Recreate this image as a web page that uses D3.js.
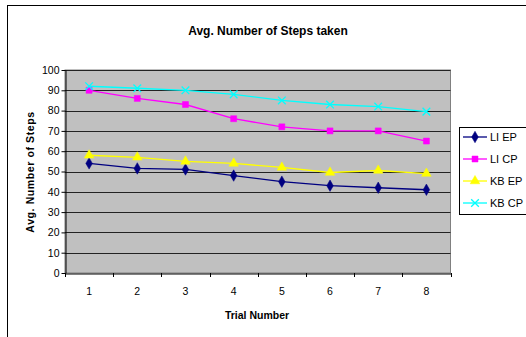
<!DOCTYPE html>
<html><head><meta charset="utf-8">
<script src="https://cdn.jsdelivr.net/npm/d3@7"></script>
<style>body{margin:0;background:#fff}svg{display:block;font-family:"Liberation Sans",Arial,sans-serif}</style>
</head><body>
<script>
const trials = ["1","2","3","4","5","6","7","8"];
const seriesNames = ["LI EP","LI CP","KB EP","KB CP"];
const liEP = [54, 51.5, 51, 48, 45, 43, 42, 41];
const liCP = [90, 86, 83, 76, 72, 70, 70, 65];
const kbEP = [58, 57, 55, 54, 52, 49.5, 50.5, 49];
const kbCP = [92, 91, 90, 88, 85, 83, 82, 79.5];
const yTicks = [0,10,20,30,40,50,60,70,80,90,100];
const colors = ["#000080","#FF00FF","#FFFF00","#00FFFF"];
const symbols = ["diamond","square","triangle","x"];
const allSeries = [liEP, liCP, kbEP, kbCP];

const W = 526, H = 337;
const svg = d3.select("body").append("svg").attr("width", W).attr("height", H);
svg.append("rect").attr("x",7.5).attr("y",5.5).attr("width",W).attr("height",H)
  .attr("fill","#fff").attr("stroke","#000").attr("stroke-width",1);

const L = 65, R = 450.5, T = 70, B = 273;
const x = d3.scaleBand().domain(trials).range([L, R]);
const y = d3.scaleLinear().domain([0,100]).range([B, T]);

svg.append("rect").attr("x",L).attr("y",T).attr("width",R-L).attr("height",B-T)
  .attr("fill","#C0C0C0").attr("stroke","#808080").attr("stroke-width",1);

// gridlines
svg.append("g").selectAll("line").data(yTicks.filter(d=>d>0)).join("line")
  .attr("x1",L).attr("x2",R).attr("y1",d=>Math.round(y(d))+0.5).attr("y2",d=>Math.round(y(d))+0.5)
  .attr("stroke","#222").attr("stroke-width",1);

// y axis
const yAxis = svg.append("g").attr("transform",`translate(${L+0.5},0)`)
  .call(d3.axisLeft(y).tickValues(yTicks).tickSize(4).tickPadding(2).tickSizeOuter(0));
yAxis.select(".domain").attr("stroke","#000");
yAxis.selectAll("line").attr("stroke","#000");
yAxis.selectAll("text").attr("font-size",10.5).attr("fill","#000").attr("font-family","Liberation Sans, Arial");

// x axis
const xAxis = svg.append("g").attr("transform",`translate(0,${B+0.5})`)
  .call(d3.axisBottom(x).tickSize(0).tickPadding(14));
xAxis.select(".domain").attr("stroke","#000");
xAxis.selectAll("text").attr("font-size",10.5).attr("fill","#000").attr("font-family","Liberation Sans, Arial");
// boundary ticks
const bounds = trials.map(t=>x(t)).concat([R]);
svg.append("g").selectAll("line").data(bounds).join("line")
  .attr("x1",d=>Math.round(d)+0.5).attr("x2",d=>Math.round(d)+0.5)
  .attr("y1",B).attr("y2",B+4).attr("stroke","#000");

// lines & markers
const line = d3.line().x((d,i)=>x(trials[i])+x.bandwidth()/2).y(d=>y(d));
const symType = {diamond:d3.symbolDiamond, square:d3.symbolSquare, triangle:d3.symbolTriangle, x:d3.symbolX};
const symSize = {diamond:38, square:36, triangle:40, x:40};
allSeries.forEach((s,k)=>{
  svg.append("path").datum(s).attr("d",line).attr("fill","none")
    .attr("stroke",colors[k]).attr("stroke-width",1.3);
});
allSeries.forEach((s,k)=>{
  const g = svg.append("g");
  g.selectAll("path").data(s).join("path")
    .attr("transform",(d,i)=>`translate(${x(trials[i])+x.bandwidth()/2},${y(d)})`)
    .attr("d",d3.symbol().type(symType[symbols[k]]).size(symSize[symbols[k]]))
    .attr("fill",symbols[k]==="x"?"none":colors[k])
    .attr("stroke",colors[k]).attr("stroke-width",symbols[k]==="x"?1.3:0.5);
});

// titles
svg.append("text").attr("x",268).attr("y",35).attr("text-anchor","middle")
  .attr("font-size",12).attr("font-weight","bold").text("Avg. Number of Steps taken");
svg.append("text").attr("x",257).attr("y",319).attr("text-anchor","middle")
  .attr("font-size",10.5).attr("font-weight","bold").text("Trial Number");
svg.append("text").attr("transform","translate(34,172) rotate(-90)").attr("text-anchor","middle")
  .attr("font-size",10.5).attr("font-weight","bold").attr("letter-spacing",0.6).text("Avg. Number of Steps");

// legend
const lg = svg.append("g");
lg.append("rect").attr("x",459.5).attr("y",127.5).attr("width",80).attr("height",87)
  .attr("fill","#fff").attr("stroke","#000");
seriesNames.forEach((n,k)=>{
  const yy = 137 + k*22;
  lg.append("line").attr("x1",463).attr("x2",487).attr("y1",yy).attr("y2",yy)
    .attr("stroke",colors[k]).attr("stroke-width",1.3);
  lg.append("path").attr("transform",`translate(475,${yy})`)
    .attr("d",d3.symbol().type(symType[symbols[k]]).size(symSize[symbols[k]]))
    .attr("fill",symbols[k]==="x"?"none":colors[k]).attr("stroke",colors[k])
    .attr("stroke-width",symbols[k]==="x"?1.3:0.5);
  lg.append("text").attr("x",490).attr("y",yy+4).attr("font-size",11).text(n);
});
</script>
</body></html>
